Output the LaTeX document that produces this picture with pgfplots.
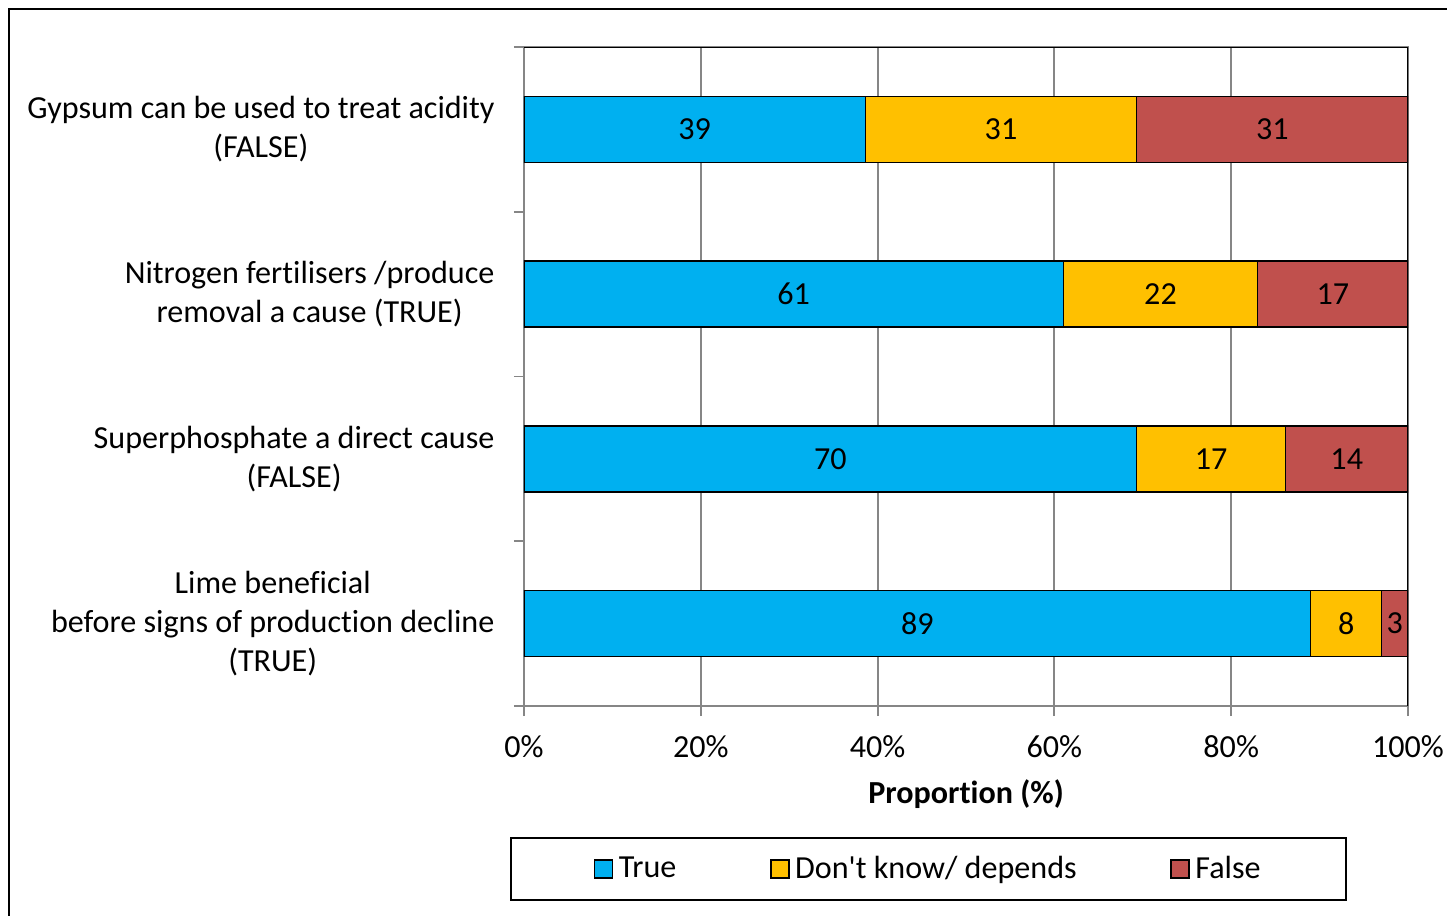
\documentclass[border=0pt]{standalone}
\usepackage{fontspec}
\setmainfont{Carlito}[Ligatures=NoCommon]
\usepackage{pgfplots}
\usepackage{pgfplotstable}
\pgfplotsset{compat=1.18}

\definecolor{ctrue}{RGB}{0,176,240}
\definecolor{cdk}{RGB}{255,192,0}
\definecolor{cfalse}{RGB}{192,80,77}
\definecolor{axgray}{RGB}{134,134,134}

% one pixel of the reference
\def\px{0.355pt}

\pgfplotstableread{
idx t  d  f
1   39 31 31
2   61 22 17
3   70 17 14
4   89 8  3
}\answers

\pgfplotsset{
  /pgf/number format/assume math mode=true,
  common/.style={
    scale only axis,
    width=313.82pt, height=233.945pt,
    xmin=0, xmax=100, ymin=0.5, ymax=4.5,
    y dir=reverse,
  },
}

\begin{document}
\begin{tikzpicture}[font=\fontsize{11.4}{13.8}\selectfont]
\useasboundingbox (-524*\px,-210*\px) rectangle (923*\px,706*\px);
\draw[line width=0.9pt] (-515*\px,-240*\px) -- (-515*\px,697*\px) -- (950*\px,697*\px);

\begin{axis}[
    common,
    xbar stacked,
    bar width=0.4,
    axis line style={axgray, line width=0.7pt},
    tick pos=left,
    tick align=outside,
    major tick length=3.55pt,
    xtick={0,20,...,100},
    xticklabel={\pgfmathprintnumber{\tick}\%},
    xticklabel style={yshift=-10*\px},
    x tick style={axgray, line width=0.7pt},
    xmajorgrids,
    grid style={axgray, line width=0.7pt},
    ytick={1,2,3,4},
    yticklabels={
      {Gypsum can be used to treat acidity\\(FALSE)},
      {Nitrogen fertilisers /produce\\removal a cause (TRUE)},
      {Superphosphate a direct cause\\(FALSE)},
      {Lime beneficial\\before signs of production decline\\(TRUE)}},
    yticklabel style={align=center, inner sep=0pt, xshift=-19*\px},
    y tick style={draw=none},
    extra y ticks={0.5,1.5,2.5,3.5,4.5},
    extra y tick labels={},
    extra y tick style={y tick style={axgray, line width=0.7pt, draw=axgray}},
    xlabel={\textbf{Proportion (\%)}},
    xlabel style={at={(axis description cs:0.5,0)}, anchor=center, yshift=-88*\px},
    legend columns=3,
    legend style={draw=none, fill=none, at={(axis description cs:0,0)}, anchor=center,
      xshift=406*\px, yshift=-163*\px,
      /tikz/every even column/.append style={column sep=88*\px}},
    legend image code/.code={\draw[#1, draw=black, line width=0.5pt] (0pt,-3.2pt) rectangle (6.4pt,3.2pt);},
]
\addplot[fill=ctrue, draw=black, line width=0.5pt]
  table[x expr={\thisrow{t}*100/(\thisrow{t}+\thisrow{d}+\thisrow{f})}, y=idx] {\answers};
\addplot[fill=cdk, draw=black, line width=0.5pt]
  table[x expr={\thisrow{d}*100/(\thisrow{t}+\thisrow{d}+\thisrow{f})}, y=idx] {\answers};
\addplot[fill=cfalse, draw=black, line width=0.5pt]
  table[x expr={\thisrow{f}*100/(\thisrow{t}+\thisrow{d}+\thisrow{f})}, y=idx] {\answers};
\legend{True, Don\textquotesingle t know/ depends, False}
\draw[black, line width=0.8pt] (axis description cs:0,1) -- (axis description cs:1,1) -- (axis description cs:1,0);
\end{axis}

% segment labels, centred on each segment
\begin{axis}[
    common,
    hide axis,
    clip=false,
    nodes near coords,
    every node near coord/.append style={anchor=center, font=\fontsize{11.4}{13.8}\selectfont},
]
\addplot[draw=none, mark=none, point meta=\thisrow{t}]
  table[x expr={(\thisrow{t}/2)*100/(\thisrow{t}+\thisrow{d}+\thisrow{f})}, y=idx] {\answers};
\addplot[draw=none, mark=none, point meta=\thisrow{d}]
  table[x expr={(\thisrow{t}+\thisrow{d}/2)*100/(\thisrow{t}+\thisrow{d}+\thisrow{f})}, y=idx] {\answers};
\addplot[draw=none, mark=none, point meta=\thisrow{f}]
  table[x expr={(\thisrow{t}+\thisrow{d}+\thisrow{f}/2)*100/(\thisrow{t}+\thisrow{d}+\thisrow{f})}, y=idx] {\answers};
\end{axis}

\draw[line width=0.8pt] (-13*\px,-132*\px) rectangle (822*\px,-194*\px);
\end{tikzpicture}
\end{document}
